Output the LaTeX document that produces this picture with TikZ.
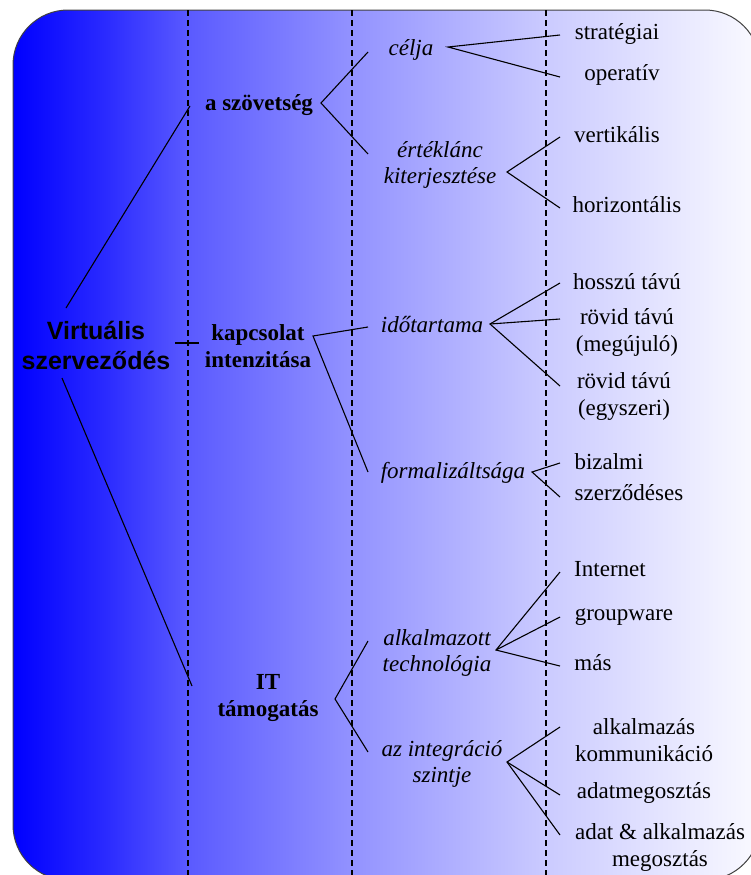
\documentclass[tikz,border=0pt]{standalone}
\usepackage{fontspec}
\setmainfont{Liberation Serif}
\setsansfont{Liberation Sans}
\pgfdeclarehorizontalshading{bgshade}{100bp}{rgb(0bp)=(0,0,1); rgb(25bp)=(0,0,1); rgb(31bp)=(0.16,0.16,1); rgb(37bp)=(0.36,0.36,1); rgb(48bp)=(0.58,0.58,1); rgb(61bp)=(0.80,0.80,1); rgb(75bp)=(0.98,0.98,1); rgb(100bp)=(0.98,0.98,1)}
\begin{document}
\begin{tikzpicture}[x=1bp,y=-1bp,
  base/.style={inner sep=0pt, align=center, text=black},
  rootf/.style={base, font=\sffamily\bfseries\fontsize{25bp}{30bp}\selectfont},
  lone/.style={base, font=\bfseries\fontsize{23bp}{27bp}\selectfont},
  ltwo/.style={base, font=\itshape\fontsize{23bp}{26bp}\selectfont},
  leaf/.style={base, font=\fontsize{23bp}{27bp}\selectfont},
  conn/.style={draw=black, line width=1.1bp},
  sep/.style={draw=black, line width=1.2bp, dash pattern=on 6bp off 4bp}]
\useasboundingbox (0,0) rectangle (751,875);
\begin{scope}
  \clip (0,0) rectangle (751,875);
  \shadedraw[shading=bgshade, draw=black!75, line width=1bp, rounded corners=55bp] (13,10) rectangle (760,880);
\end{scope}
% column separators
\draw[sep] (188,10) -- (188,875);
\draw[sep] (352,10) -- (352,875);
\draw[sep] (546,10) -- (546,875);
% nodes
\node[rootf] (root) at (96,345) {Virtuális\\szerveződés};
\node[lone] (szov) at (259,105) {a szövetség};
\node[lone] (kapcs) at (258,346) {kapcsolat\\intenzitása};
\node[lone] (it) at (268,698) {IT\\támogatás};
\node[ltwo] (celja) at (411,50) {célja};
\node[ltwo] (ertek) at (440,165) {értéklánc\\kiterjesztése};
\node[ltwo] (ido) at (432,325) {időtartama};
\node[ltwo] (formal) at (453,473) {formalizáltsága};
\node[ltwo] (alk) at (437,653) {alkalmazott\\technológia};
\node[ltwo] (integr) at (442,764) {az integráció\\szintje};
\node[leaf] (strat) at (617,34) {stratégiai};
\node[leaf] (oper) at (622,75) {operatív};
\node[leaf] (vert) at (617,135) {vertikális};
\node[leaf] (horiz) at (627,205) {horizontális};
\node[leaf] (hossz) at (627,282) {hosszú távú};
\node[leaf] (rovm) at (627,332) {rövid távú\\(megújuló)};
\node[leaf] (rove) at (624,396) {rövid távú\\(egyszeri)};
\node[leaf] (biz) at (609,462) {bizalmi};
\node[leaf] (szerz) at (629,493) {szerződéses};
\node[leaf] (inet) at (610,569) {Internet};
\node[leaf] (group) at (624,617) {groupware};
\node[leaf] (mas) at (593,663) {más};
\node[leaf] (akomm) at (644,740) {alkalmazás\\kommunikáció};
\node[leaf] (adatm) at (644,793) {adatmegosztás};
\node[leaf] (adatalk) at (660,847) {adat \& alkalmazás\\megosztás};
% connector points
\coordinate (rU) at (66,308);  \coordinate (szovL) at (190,106);
\coordinate (rM) at (175,343); \coordinate (kapcsL) at (199,343);
\coordinate (rD) at (62,378);  \coordinate (itL) at (192,686);
\coordinate (szovA) at (321,103); \coordinate (celjaL) at (368,52); \coordinate (ertekL) at (368,154);
\coordinate (kapcsA) at (313,336); \coordinate (idoL) at (368,327); \coordinate (formalL) at (368,472);
\coordinate (itA) at (335,699); \coordinate (alkL) at (368,641); \coordinate (integrL) at (368,752);
\coordinate (celjaA) at (448,47); \coordinate (stratL) at (560,35); \coordinate (operL) at (560,77);
\coordinate (ertekA) at (507,172); \coordinate (vertL) at (560,137); \coordinate (horizL) at (560,208);
\coordinate (idoA) at (490,324); \coordinate (hosszL) at (560,283); \coordinate (rovmL) at (560,319); \coordinate (roveL) at (560,386);
\coordinate (formalA) at (532,472); \coordinate (bizL) at (560,463); \coordinate (szerzL) at (560,497);
\coordinate (alkA) at (496,650); \coordinate (inetL) at (560,572); \coordinate (groupL) at (560,617); \coordinate (masL) at (560,666);
\coordinate (integrA) at (507,762); \coordinate (akommL) at (560,727); \coordinate (adatmL) at (560,795); \coordinate (adatalkL) at (560,835);
% connectors
\draw[conn] (rU) -- (szovL);
\draw[conn] (rM) -- (kapcsL);
\draw[conn] (rD) -- (itL);
\draw[conn] (celjaL) -- (szovA) -- (ertekL);
\draw[conn] (idoL) -- (kapcsA) -- (formalL);
\draw[conn] (alkL) -- (itA) -- (integrL);
\draw[conn] (stratL) -- (celjaA) -- (operL);
\draw[conn] (vertL) -- (ertekA) -- (horizL);
\draw[conn] (hosszL) -- (idoA) -- (roveL);
\draw[conn] (idoA) -- (rovmL);
\draw[conn] (bizL) -- (formalA) -- (szerzL);
\draw[conn] (inetL) -- (alkA) -- (masL);
\draw[conn] (alkA) -- (groupL);
\draw[conn] (akommL) -- (integrA) -- (adatalkL);
\draw[conn] (integrA) -- (adatmL);
\end{tikzpicture}
\end{document}
